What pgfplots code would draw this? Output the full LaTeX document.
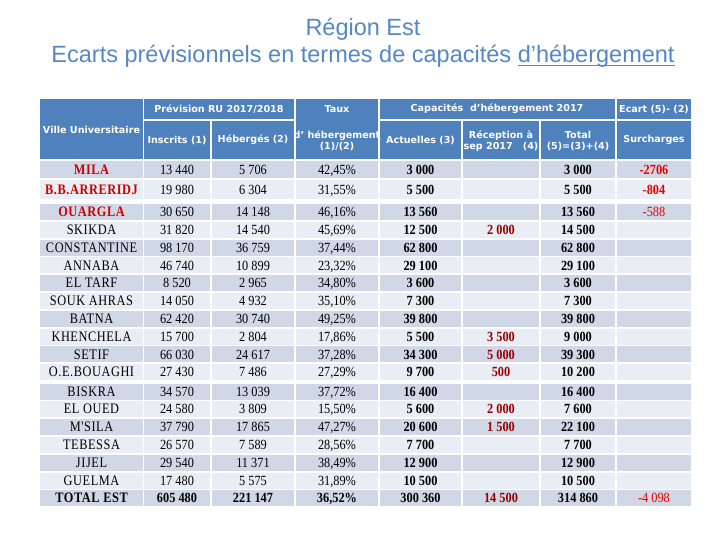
\documentclass[border=0pt]{standalone}
\usepackage{fontspec}
\setmainfont{Liberation Serif}
\newfontfamily\hdrfont{DejaVu Sans}
\newfontfamily\ttlfont{Liberation Sans}
\newfontfamily\numfont{Liberation Serif}[FakeStretch=0.88]
\newfontfamily\namefont{Liberation Serif}[FakeStretch=0.85, LetterSpace=4]
\usepackage{pgfplots}
\pgfplotsset{compat=1.18}
\definecolor{hd}{RGB}{79,129,189}
\definecolor{dk}{RGB}{208,216,232}
\definecolor{lt}{RGB}{233,237,244}
\definecolor{ttl}{RGB}{84,135,196}
\definecolor{nred}{RGB}{204,0,0}
\definecolor{dred}{RGB}{150,0,0}
\definecolor{ered}{RGB}{230,0,0}
\pgfplotsset{
  cell/.style={draw=none, mark=none, point meta=explicit symbolic, nodes near coords,
    every node near coord/.append style={anchor=base, yshift=-4.6pt, inner sep=0pt, text=black, font=\numfont\fontsize{14}{16}\selectfont}},
  bcell/.style={cell, every node near coord/.append style={font=\numfont\fontsize{14}{16}\selectfont\bfseries}},
}
\tikzset{hdr/.style={text=white, align=center, font=\hdrfont\bfseries\fontsize{9.6}{11.5}\selectfont}}
\newcommand{\uline}[1]{\leavevmode\setbox0\hbox{#1}\rlap{\rule[-3.2pt]{\wd0}{1.4pt}}\box0}
\begin{document}
\begin{tikzpicture}
\useasboundingbox (0,0) rectangle (720pt,540pt);
\begin{axis}[scale only axis, width=720pt, height=540pt, xmin=0, xmax=720, ymin=0, ymax=540,
  y dir=reverse, hide axis, clip=false]
% title
\node[anchor=base, text=ttl, font=\ttlfont\fontsize{23.5}{26}\selectfont] at (axis cs:363,36) {Région Est};
\node[anchor=base, text=ttl, font=\ttlfont\fontsize{23.5}{26}\selectfont] at (axis cs:363,63) {Ecarts prévisionnels en termes de capacités \uline{d’hébergement}};
% header background
\fill[hd] (axis cs:40,99) rectangle (axis cs:691,159.5);
% body rows
\pgfplotsinvokeforeach{212,247.6,283.2,318.8,354.4,391.5,427.1,462.7,498.3}{
  \fill[dk] (axis cs:40,#1-8) rectangle (axis cs:691,#1+8);}
\pgfplotsinvokeforeach{229.8,265.4,301.0,336.6,372.2,409.3,444.9,480.5}{
  \fill[lt] (axis cs:40,#1-8) rectangle (axis cs:691,#1+8);}
\fill[dk] (axis cs:40,161) rectangle (axis cs:691,178);
\fill[lt] (axis cs:40,180) rectangle (axis cs:691,199);
% white separators
\draw[white, line width=1.8pt] (axis cs:143.5,99) -- (axis cs:143.5,507);
\draw[white, line width=1.8pt] (axis cs:211,120) -- (axis cs:211,507);
\draw[white, line width=1.8pt] (axis cs:295,99) -- (axis cs:295,507);
\draw[white, line width=1.8pt] (axis cs:379,99) -- (axis cs:379,507);
\draw[white, line width=1.8pt] (axis cs:462,120) -- (axis cs:462,507);
\draw[white, line width=1.8pt] (axis cs:540,120) -- (axis cs:540,507);
\draw[white, line width=1.8pt] (axis cs:616,99) -- (axis cs:616,507);
\draw[white, line width=1.8pt] (axis cs:143.5,120) -- (axis cs:295,120);
\draw[white, line width=1.8pt] (axis cs:379,120) -- (axis cs:691,120);
% header text
\node[hdr] at (axis cs:91.5,130) {Ville Universitaire};
\node[hdr] at (axis cs:219,109) {Prévision RU 2017/2018};
\node[hdr] at (axis cs:337,109) {Taux};
\node[hdr] at (axis cs:497,109) {Capacités\ \ d’hébergement 2017};
\node[hdr] at (axis cs:654,109) {Ecart (5)- (2)};
\node[hdr] at (axis cs:177,140) {Inscrits (1)};
\node[hdr] at (axis cs:253,140) {Hébergés (2)};
\node[hdr] at (axis cs:337,141) {d’ hébergement\\(1)/(2)};
\node[hdr] at (axis cs:420.5,140) {Actuelles (3)};
\node[hdr] at (axis cs:501,141) {Réception à\\sep 2017\ \ \ (4)};
\node[hdr] at (axis cs:578,141) {Total\\(5)=(3)+(4)};
\node[hdr] at (axis cs:654,140) {Surcharges};
% city names
\addplot[cell, every node near coord/.append style={text=nred, font=\namefont\fontsize{14.5}{16}\selectfont\bfseries}] coordinates {
 (91.5,169.5) [MILA] (91.5,189.5) [B.B.ARRERIDJ] (91.5,212) [OUARGLA]};
\addplot[cell, every node near coord/.append style={font=\namefont\fontsize{14.5}{16}\selectfont}] coordinates {
 (91.5,229.8) [SKIKDA] (91.5,247.6) [CONSTANTINE] (91.5,265.4) [ANNABA] (91.5,283.2) [EL TARF]
 (91.5,301.0) [SOUK AHRAS] (91.5,318.8) [BATNA] (91.5,336.6) [KHENCHELA] (91.5,354.4) [SETIF]
 (91.5,372.2) [O.E.BOUAGHI] (91.5,391.5) [BISKRA] (91.5,409.3) [EL OUED] (91.5,427.1) [M'SILA]
 (91.5,444.9) [TEBESSA] (91.5,462.7) [JIJEL] (91.5,480.5) [GUELMA]};
\addplot[cell, every node near coord/.append style={font=\namefont\fontsize{14.5}{16}\selectfont\bfseries}] coordinates {
 (91.5,498.3) [TOTAL EST]};
% Inscrits (1)
\addplot[cell] coordinates {
 (177,169.5) [13~440] (177,189.5) [19~980] (177,212) [30~650] (177,229.8) [31~820]
 (177,247.6) [98~170] (177,265.4) [46~740] (177,283.2) [8~520] (177,301.0) [14~050]
 (177,318.8) [62~420] (177,336.6) [15~700] (177,354.4) [66~030] (177,372.2) [27~430]
 (177,391.5) [34~570] (177,409.3) [24~580] (177,427.1) [37~790] (177,444.9) [26~570]
 (177,462.7) [29~540] (177,480.5) [17~480]};
\addplot[bcell] coordinates {(177,498.3) [605~480]};
% Hebergés (2)
\addplot[cell] coordinates {
 (253,169.5) [5~706] (253,189.5) [6~304] (253,212) [14~148] (253,229.8) [14~540]
 (253,247.6) [36~759] (253,265.4) [10~899] (253,283.2) [2~965] (253,301.0) [4~932]
 (253,318.8) [30~740] (253,336.6) [2~804] (253,354.4) [24~617] (253,372.2) [7~486]
 (253,391.5) [13~039] (253,409.3) [3~809] (253,427.1) [17~865] (253,444.9) [7~589]
 (253,462.7) [11~371] (253,480.5) [5~575]};
\addplot[bcell] coordinates {(253,498.3) [221~147]};
% Taux
\addplot[cell] coordinates {
 (337,169.5) [42{,}45\%] (337,189.5) [31{,}55\%] (337,212) [46{,}16\%] (337,229.8) [45{,}69\%]
 (337,247.6) [37{,}44\%] (337,265.4) [23{,}32\%] (337,283.2) [34{,}80\%] (337,301.0) [35{,}10\%]
 (337,318.8) [49{,}25\%] (337,336.6) [17{,}86\%] (337,354.4) [37{,}28\%] (337,372.2) [27{,}29\%]
 (337,391.5) [37{,}72\%] (337,409.3) [15{,}50\%] (337,427.1) [47{,}27\%] (337,444.9) [28{,}56\%]
 (337,462.7) [38{,}49\%] (337,480.5) [31{,}89\%]};
\addplot[bcell] coordinates {(337,498.3) [36{,}52\%]};
% Actuelles (3)
\addplot[bcell] coordinates {
 (420.5,169.5) [3~000] (420.5,189.5) [5~500] (420.5,212) [13~560] (420.5,229.8) [12~500]
 (420.5,247.6) [62~800] (420.5,265.4) [29~100] (420.5,283.2) [3~600] (420.5,301.0) [7~300]
 (420.5,318.8) [39~800] (420.5,336.6) [5~500] (420.5,354.4) [34~300] (420.5,372.2) [9~700]
 (420.5,391.5) [16~400] (420.5,409.3) [5~600] (420.5,427.1) [20~600] (420.5,444.9) [7~700]
 (420.5,462.7) [12~900] (420.5,480.5) [10~500] (420.5,498.3) [300~360]};
% Reception (4)
\addplot[bcell, every node near coord/.append style={text=dred}] coordinates {
 (501,229.8) [2~000] (501,336.6) [3~500] (501,354.4) [5~000] (501,372.2) [500]
 (501,409.3) [2~000] (501,427.1) [1~500] (501,498.3) [14~500]};
% Total (5)
\addplot[bcell] coordinates {
 (578,169.5) [3~000] (578,189.5) [5~500] (578,212) [13~560] (578,229.8) [14~500]
 (578,247.6) [62~800] (578,265.4) [29~100] (578,283.2) [3~600] (578,301.0) [7~300]
 (578,318.8) [39~800] (578,336.6) [9~000] (578,354.4) [39~300] (578,372.2) [10~200]
 (578,391.5) [16~400] (578,409.3) [7~600] (578,427.1) [22~100] (578,444.9) [7~700]
 (578,462.7) [12~900] (578,480.5) [10~500] (578,498.3) [314~860]};
% Ecart
\addplot[bcell, every node near coord/.append style={text=ered}] coordinates {
 (654,169.5) [-2706] (654,189.5) [-804]};
\addplot[cell, every node near coord/.append style={text=ered}] coordinates {
 (654,212) [-588] (654,498.3) [-4~098]};
\end{axis}
\end{tikzpicture}
\end{document}
